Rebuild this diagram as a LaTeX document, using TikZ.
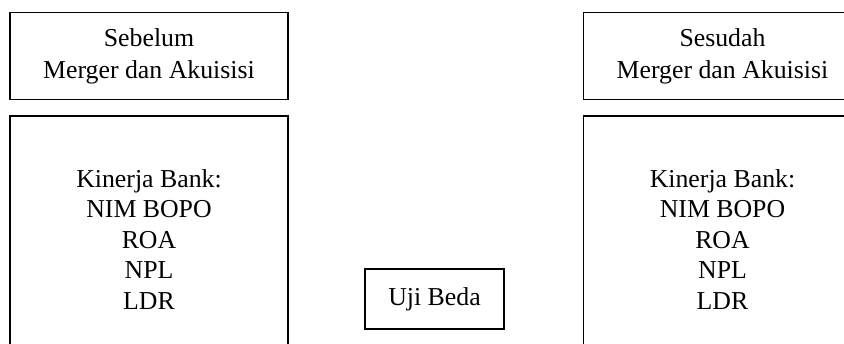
\documentclass[tikz,border=0pt]{standalone}
\usepackage{fontspec}
\setmainfont{Liberation Serif}
\begin{document}
\begin{tikzpicture}[x=1pt,y=-1pt,
  box/.style={draw=black,line width=1.2pt,align=center,inner sep=0pt,
    font=\fontsize{25.8}{32}\selectfont},
  topbox/.style={box,minimum width=278pt,minimum height=87pt},
  mainbox/.style={box,minimum width=278pt,minimum height=298pt,
    font=\fontsize{25.8}{30.5}\selectfont},
  testbox/.style={box,minimum width=139pt,minimum height=60pt}]
\useasboundingbox (0,0) rectangle (844,344);
\clip (0,0) rectangle (844,344);
% left column: before
\node[topbox] (before) at (149,56) {Sebelum\\Merger dan Akuisisi};
\node[mainbox] (perfL) at (149,265) {Kinerja Bank:\\NIM BOPO\\ROA\\NPL\\LDR\\[12pt]\strut};
% right column: after
\node[topbox] (after) at (722.5,56) {Sesudah\\Merger dan Akuisisi};
\node[mainbox] (perfR) at (722.5,265) {Kinerja Bank:\\NIM BOPO\\ROA\\NPL\\LDR\\[12pt]\strut};
% difference test
\node[testbox] (test) at (434.5,299) {Uji Beda};
\end{tikzpicture}
\end{document}
